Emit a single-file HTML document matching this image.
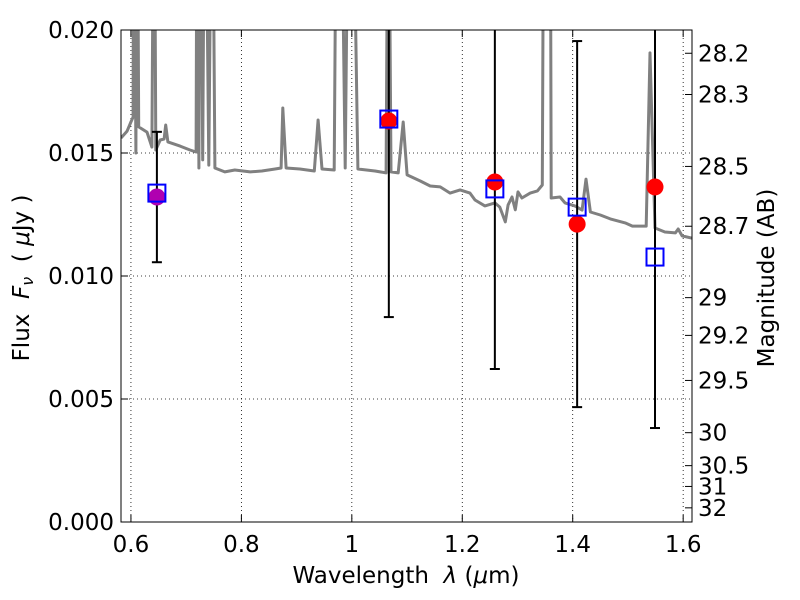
<!DOCTYPE html>
<html><head><meta charset="utf-8"><style>
html,body{margin:0;padding:0;background:#fff;}
svg{display:block;font-family:"DejaVu Sans","Liberation Sans",sans-serif;}
</style></head><body>
<svg id="chart" width="800" height="600">
<defs><clipPath id="clip"><rect x="121" y="30" width="571" height="492"/></clipPath></defs>
<g id="grid"></g>
<g id="spec" clip-path="url(#clip)"></g>
<g id="marks" clip-path="url(#clip)"></g>
<rect x="121" y="30" width="571" height="492" fill="none" stroke="#000" stroke-width="1"/>
<g id="axes"></g>
<text x="406" y="583" font-size="23" text-anchor="middle" xml:space="preserve">Wavelength  <tspan font-style="italic">λ</tspan> (<tspan font-style="italic">μ</tspan>m)</text>
<text transform="translate(29,278) rotate(-90)" font-size="23" text-anchor="middle" xml:space="preserve">Flux  <tspan font-style="italic">F</tspan><tspan font-style="italic" font-size="16" dy="4">ν</tspan><tspan dy="-4">  ( </tspan><tspan font-style="italic">μ</tspan>Jy )</text>
<text transform="translate(774,278) rotate(-90)" font-size="23" text-anchor="middle">Magnitude (AB)</text>
</svg>
<script>
const specLam = [0.582,0.593,0.600,0.604,0.605,0.609,0.611,0.614,0.629,0.638,0.642,0.645,0.653,0.660,0.663,0.667,0.689,0.707,0.718,0.720,0.723,0.725,0.730,0.734,0.741,0.747,0.752,0.770,0.788,0.816,0.837,0.861,0.872,0.875,0.881,0.906,0.932,0.939,0.946,0.968,0.973,0.979,0.988,0.995,1.000,1.011,1.042,1.062,1.066,1.071,1.084,1.093,1.100,1.124,1.142,1.160,1.178,1.196,1.214,1.223,1.241,1.259,1.268,1.278,1.283,1.290,1.296,1.301,1.308,1.323,1.336,1.345,1.348,1.359,1.361,1.377,1.386,1.404,1.417,1.424,1.432,1.450,1.468,1.495,1.508,1.533,1.540,1.549,1.567,1.586,1.591,1.598,1.616];
const specFlux = [0.01561,0.01589,0.01626,0.01646,0.03,0.0150,0.03,0.01606,0.01585,0.01524,0.03,0.01512,0.01553,0.01557,0.01614,0.01545,0.01528,0.01512,0.01504,0.03,0.01439,0.03,0.01472,0.03,0.01451,0.03,0.01439,0.01423,0.01431,0.01423,0.01427,0.01435,0.01439,0.01683,0.01439,0.01435,0.01427,0.01634,0.01435,0.01431,0.03,0.03,0.01439,0.03,0.03,0.01435,0.01427,0.01419,0.03,0.01423,0.01419,0.01626,0.01411,0.01386,0.01366,0.01362,0.01337,0.01350,0.01337,0.01309,0.01285,0.01297,0.01280,0.01220,0.01289,0.01321,0.01269,0.01342,0.01317,0.01337,0.01346,0.01370,0.03,0.03,0.01317,0.01321,0.01297,0.01285,0.01268,0.01394,0.01260,0.01248,0.01232,0.01216,0.01203,0.01203,0.01907,0.01195,0.01179,0.01175,0.01191,0.01163,0.01154];
const obsLam = [0.647,1.067,1.259,1.408,1.549];
const obsFlux = [0.01321,0.01630,0.01382,0.01211,0.01362];
const obsErr = [0.00265,0.00797,0.0076,0.00744,0.0098];
const modelLam = [0.647,1.067,1.259,1.408,1.549];
const modelFlux = [0.01337,0.01638,0.01354,0.01280,0.01077];
const xTicks = [0.6,0.8,1.0,1.2,1.4,1.6];
const xTickLabels = ["0.6","0.8","1","1.2","1.4","1.6"];
const yTicks = [0,0.005,0.010,0.015,0.020];
const yTickLabels = ["0.000","0.005","0.010","0.015","0.020"];
const magTicks = [28.2,28.3,28.5,28.7,29,29.2,29.5,30,30.5,31,32];
const magTickLabels = ["28.2","28.3","28.5","28.7","29","29.2","29.5","30","30.5","31","32"];

const NS="http://www.w3.org/2000/svg";
const L=121,R=692,T=30,B=522;
const xmin=0.582,xmax=1.616,ymin=0,ymax=0.020;
const X=v=>L+(v-xmin)/(xmax-xmin)*(R-L);
const Y=v=>B-(v-ymin)/(ymax-ymin)*(B-T);
function mk(tag,attrs,parent){const e=document.createElementNS(NS,tag);for(const k in attrs)e.setAttribute(k,attrs[k]);parent.appendChild(e);return e;}
const grid=document.getElementById('grid'),axes=document.getElementById('axes'),spec=document.getElementById('spec'),marks=document.getElementById('marks');

xTicks.forEach((t,i)=>{
  const x=X(t);
  const g=mk('line',{x1:x,x2:x,y1:T,y2:B,stroke:'#000','stroke-width':0.8,'stroke-dasharray':'1,3'},grid);
  
  
  const a=mk('line',{x1:x,x2:x,y1:B,y2:B-7,stroke:'#000'},axes);
  
  
  const a2=mk('line',{x1:x,x2:x,y1:T,y2:T+7,stroke:'#000'},axes);
  
  
  const tx=mk('text',{x:x,y:B+30,'font-size':23,'text-anchor':'middle'},axes);
  tx.textContent=xTickLabels[i];
  
  
});
yTicks.forEach((t,i)=>{
  const y=Y(t);
  const g=mk('line',{x1:L,x2:R,y1:y,y2:y,stroke:'#000','stroke-width':0.8,'stroke-dasharray':'1,3'},grid);
  
  
  const a=mk('line',{x1:L,x2:L+7,y1:y,y2:y,stroke:'#000'},axes);
  
  
  const tx=mk('text',{x:L-7,y:y+8,'font-size':23,'text-anchor':'end'},axes);
  tx.textContent=yTickLabels[i];
  
  
});
magTicks.forEach((m,i)=>{
  const f=Math.pow(10,(23.9-m)/2.5);
  const y=Y(f);
  const a=mk('line',{x1:R,x2:R-7,y1:y,y2:y,stroke:'#000'},axes);
  
  
  const tx=mk('text',{x:R+6,y:y+8,'font-size':23,'text-anchor':'start'},axes);
  tx.textContent=magTickLabels[i];
  
  
});

const d=specLam.map((l,i)=>(i?'L':'M')+X(l).toFixed(1)+','+Y(specFlux[i]).toFixed(1)).join(' ');
const p=mk('path',{d:d,fill:'none',stroke:'#808080','stroke-width':3,'stroke-linejoin':'round'},spec);



obsLam.forEach((l,i)=>{
  const x=X(l),y1=Y(obsFlux[i]+obsErr[i]),y2=Y(obsFlux[i]-obsErr[i]);
  const e=mk('line',{x1:x,x2:x,y1:y1,y2:y2,stroke:'#000','stroke-width':2},marks);
  
  
  [y1,y2].forEach(yy=>{
    const c=mk('line',{x1:x-5,x2:x+5,y1:yy,y2:yy,stroke:'#000','stroke-width':2},marks);
    
    
  });
});
obsLam.forEach((l,i)=>{
  const c=mk('circle',{cx:X(l),cy:Y(obsFlux[i]),r:8.5,fill:'#ff0000'},marks);
  
  
});
modelLam.forEach((l,i)=>{
  const s=mk('rect',{x:X(l)-8.5,y:Y(modelFlux[i])-8.5,width:17,height:17,fill:'none',stroke:'#0000ff','stroke-width':2},marks);
  
  
});
const pc=marks.querySelectorAll('circle')[0];
pc.setAttribute('fill','#b000b0');
</script>
</body></html>
